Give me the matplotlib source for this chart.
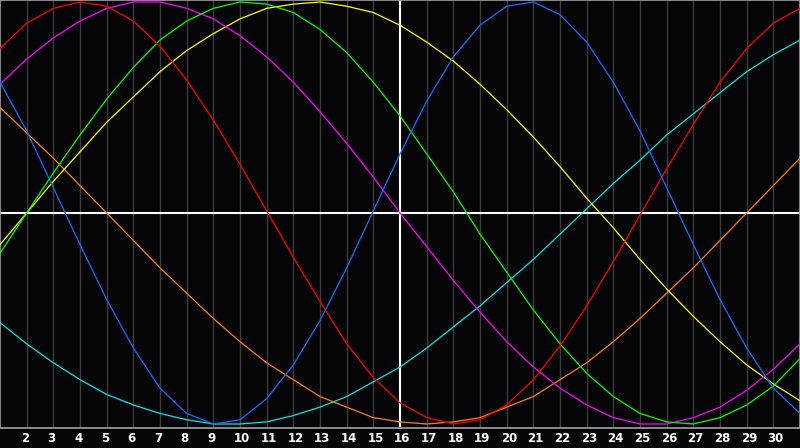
import matplotlib
matplotlib.use('Agg')
import matplotlib.pyplot as plt
import matplotlib.transforms as mtransforms
import numpy as np


days = list(range(1, 32))
tick_days = list(range(2, 31))

# curve values, one per day (1..31), scale -1..1
blue = [0.62, 0.39, 0.12, -0.15, -0.41, -0.64, -0.83, -0.95, -1.00, -0.98,
        -0.88, -0.72, -0.51, -0.26, 0.01, 0.28, 0.53, 0.74, 0.89, 0.98,
        1.00, 0.94, 0.81, 0.62, 0.39, 0.12, -0.15, -0.41, -0.64, -0.83, -0.95]
red = [0.78, 0.90, 0.97, 1.00, 0.98, 0.91, 0.79, 0.63, 0.44, 0.23,
       0.01, -0.21, -0.42, -0.62, -0.78, -0.90, -0.97, -1.00, -0.98, -0.91,
       -0.79, -0.63, -0.44, -0.23, -0.01, 0.21, 0.42, 0.62, 0.78, 0.90, 0.97]
green = [-0.19, 0.00, 0.19, 0.37, 0.54, 0.69, 0.82, 0.91, 0.97, 1.00,
         0.99, 0.95, 0.87, 0.76, 0.62, 0.46, 0.28, 0.10, -0.10, -0.28,
         -0.46, -0.62, -0.76, -0.87, -0.95, -0.99, -1.00, -0.97, -0.91, -0.82, -0.69]
magenta = [0.61, 0.73, 0.83, 0.91, 0.97, 1.00, 1.00, 0.97, 0.92, 0.84,
           0.74, 0.62, 0.48, 0.33, 0.17, 0.00, -0.16, -0.32, -0.47, -0.61,
           -0.73, -0.83, -0.91, -0.97, -1.00, -1.00, -0.97, -0.92, -0.84, -0.74, -0.62]
yellow = [-0.15, 0.00, 0.15, 0.29, 0.43, 0.55, 0.67, 0.77, 0.85, 0.92,
          0.97, 0.99, 1.00, 0.98, 0.95, 0.89, 0.81, 0.72, 0.61, 0.49,
          0.36, 0.22, 0.07, -0.07, -0.22, -0.36, -0.49, -0.61, -0.72, -0.81, -0.89]
cyan = [-0.52, -0.62, -0.71, -0.79, -0.86, -0.91, -0.95, -0.98, -1.00, -1.00,
        -0.99, -0.96, -0.92, -0.87, -0.80, -0.73, -0.64, -0.54, -0.44, -0.33,
        -0.22, -0.10, 0.02, 0.14, 0.25, 0.37, 0.47, 0.57, 0.67, 0.75, 0.82]
orange = [0.50, 0.38, 0.26, 0.13, 0.00, -0.13, -0.26, -0.38, -0.50, -0.61,
          -0.71, -0.79, -0.87, -0.92, -0.97, -0.99, -1.00, -0.99, -0.97, -0.92,
          -0.87, -0.79, -0.71, -0.61, -0.50, -0.38, -0.26, -0.13, 0.00, 0.13, 0.26]

series = [
    (cyan, '#00e8e8'),
    (orange, '#ff8000'),
    (yellow, '#ffff00'),
    (magenta, '#ff00ff'),
    (green, '#00ff00'),
    (red, '#ff0000'),
    (blue, '#1070ff'),
]

BG = '#050508'


def show_fig():
    fig = plt.figure(figsize=(8, 4.48), dpi=100, facecolor=BG)
    ax = fig.add_axes([0, 20 / 448, 1, 428 / 448], facecolor=BG)

    for d in tick_days:
        if d != 16:
            ax.axvline(d, color='#3c3c3c', lw=1.0, zorder=1)
    ax.axvline(16, color='white', lw=1.5, zorder=2)
    ax.axhline(0, color='white', lw=1.5, zorder=2)

    for values, color in series:
        ax.plot(days, values, color=color, lw=0.9, zorder=3)

    ax.set_xlim(1, 31)
    ax.set_ylim(-1.019, 1.0095)
    ax.set_xticks([])
    ax.set_yticks([])
    for s in ax.spines.values():
        s.set_color('#a0a0a0')
        s.set_linewidth(1.2)

    trans = mtransforms.blended_transform_factory(ax.transData, ax.transAxes)
    trans = mtransforms.offset_copy(trans, fig=fig, x=-6, y=-10, units='dots')
    for d in tick_days:
        ax.text(d, 0, str(d), transform=trans, color='white', fontsize=8.5,
                fontweight='bold', ha='left', va='center', clip_on=False)

    fig.savefig('out.png', dpi=100, facecolor=BG)


def main():
    show_fig()


if __name__ == "__main__":
    main()
